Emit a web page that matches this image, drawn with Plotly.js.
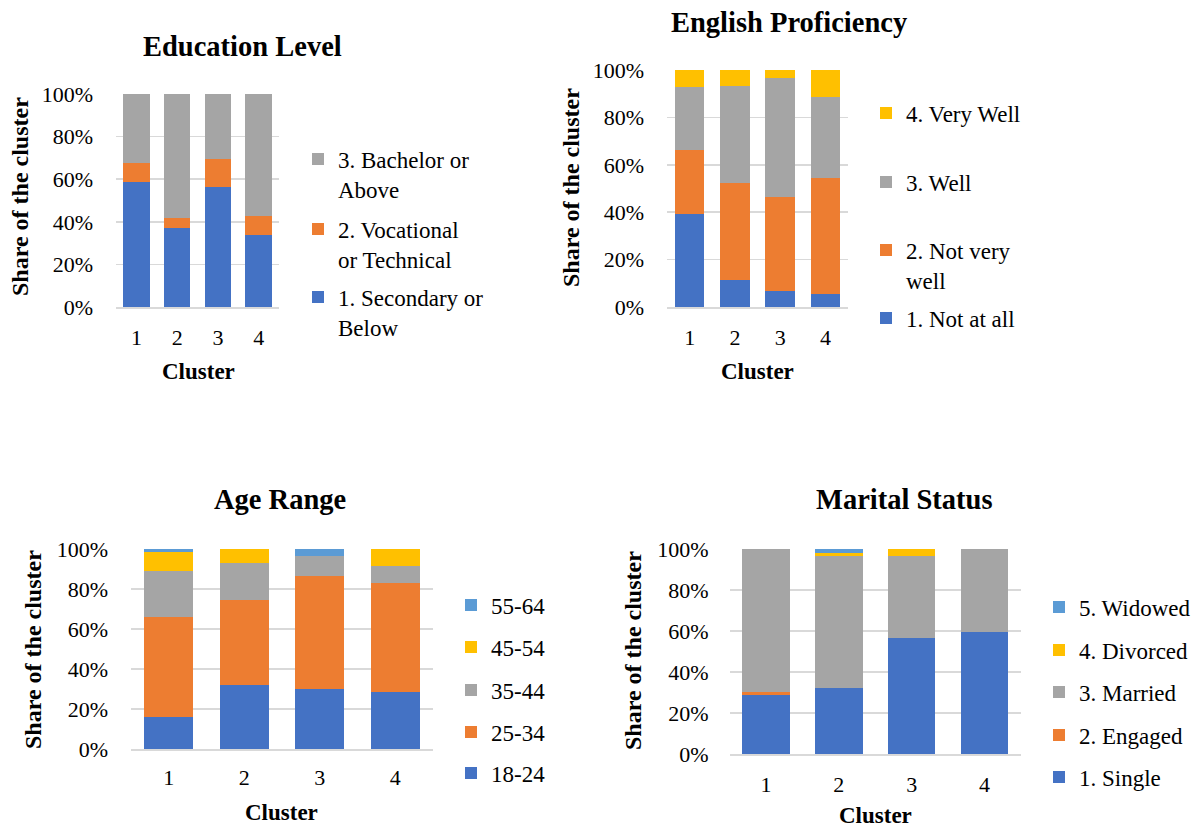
<!DOCTYPE html>
<html>
<head>
<meta charset="utf-8">
<script src="https://cdn.plot.ly/plotly-3.0.1.min.js"></script>
<style>html,body{margin:0;padding:0;background:#fff;}#chart{width:1203px;height:829px;}</style>
</head>
<body>
<div id="chart"></div>
<script>
// ---------- data ----------
const clusters = ['1', '2', '3', '4'];

const eduNames = ['1. Secondary or<br>Below', '2. Vocational<br>or Technical', '3. Bachelor or<br>Above'];
const eduSecondary  = [58.6, 37.0, 56.4, 33.9];
const eduVocational = [9.0, 4.8, 13.2, 8.6];
const eduBachelor   = [32.4, 58.2, 30.4, 57.5];

const engNames = ['1. Not at all', '2. Not very<br>well', '3. Well', '4. Very Well'];
const engNotAtAll   = [39.3, 11.5, 6.6, 5.6];
const engNotVery    = [26.8, 41.0, 40.0, 48.8];
const engWell       = [26.6, 40.6, 50.2, 34.1];
const engVeryWell   = [7.3, 6.9, 3.2, 11.5];

const ageNames = ['18-24', '25-34', '35-44', '45-54', '55-64'];
const age18_24 = [16.0, 32.1, 29.8, 28.5];
const age25_34 = [50.1, 42.4, 56.9, 54.4];
const age35_44 = [23.1, 18.7, 10.0, 8.6];
const age45_54 = [9.1, 6.8, 0.0, 8.5];
const age55_64 = [1.7, 0.0, 3.3, 0.0];

const marNames = ['1. Single', '2. Engaged', '3. Married', '4. Divorced', '5. Widowed'];
const marSingle   = [28.6, 32.0, 56.5, 59.7];
const marEngaged  = [1.6, 0.0, 0.0, 0.0];
const marMarried  = [69.8, 64.8, 40.3, 40.3];
const marDivorced = [0.0, 1.2, 3.2, 0.0];
const marWidowed  = [0.0, 2.0, 0.0, 0.0];

const titles = ['Education Level', 'English Proficiency', 'Age Range', 'Marital Status'];
const yTitle = 'Share of the cluster';
const xTitle = 'Cluster';

// ---------- styling ----------
const W = 1203, H = 829;
const X = p => p / W;
const Y = p => 1 - p / H;
const FONT = 'Times New Roman, Liberation Serif, serif';
const COLORS = ['#4472C4', '#ED7D31', '#A5A5A5', '#FFC000', '#5B9BD5'];
const GRID = '#D9D9D9';
const LEG_SIZE = 23, TICK_SIZE = 22;

const traces = [];
const layout = {
  width: W, height: H,
  margin: {l: 0, r: 0, t: 0, b: 0},
  paper_bgcolor: '#fff', plot_bgcolor: '#fff',
  barmode: 'stack', bargap: 0.35,
  font: {family: FONT, size: 20, color: '#000'},
  showlegend: true,
  legend: {visible: false},
  annotations: []
};

let legendCount = 1;
function addChart(idx, names, series, plot, legendPos, textX, titlePos, xtPos, ytPos) {
  const ax = idx === 1 ? '' : String(idx);
  series.forEach((vals, i) => {
    legendCount++;
    const lk = 'legend' + legendCount;
    traces.push({
      type: 'bar', x: clusters, y: vals, name: names[i],
      xaxis: 'x' + ax, yaxis: 'y' + ax,
      marker: {color: COLORS[i], line: {width: 0}},
      legend: lk, showlegend: true, hoverinfo: 'y+name'
    });
    layout[lk] = {
      x: X(textX - 40), y: Y(legendPos[i] - 21.5), xanchor: 'left', yanchor: 'top',
      bgcolor: 'rgba(0,0,0,0)', valign: 'top',
      font: {family: FONT, size: LEG_SIZE, color: '#000'}
    };
  });
  layout['xaxis' + ax] = {
    domain: [X(plot.l), X(plot.r)], anchor: 'y' + ax, type: 'category',
    showline: true, linecolor: GRID, linewidth: 1.5, showgrid: false, ticks: '',
    ticklabelstandoff: plot.xs, tickfont: {family: FONT, size: TICK_SIZE, color: '#000'},
    fixedrange: true
  };
  layout['yaxis' + ax] = {
    domain: [Y(plot.b), Y(plot.t)], anchor: 'x' + ax, range: [0, 100], dtick: 20,
    ticksuffix: '%', showgrid: true, gridcolor: GRID, gridwidth: 1.5, zeroline: false,
    showline: false, ticks: '', ticklabelstandoff: plot.ys,
    tickfont: {family: FONT, size: TICK_SIZE, color: '#000'}, fixedrange: true
  };
  layout.annotations.push(
    {text: '<b>' + titles[idx - 1] + '</b>', xref: 'paper', yref: 'paper', x: X(titlePos[0]), y: Y(titlePos[1]),
     xanchor: 'center', yanchor: 'middle', showarrow: false, font: {family: FONT, size: 28.5, color: '#000'}},
    {text: '<b>' + xTitle + '</b>', xref: 'paper', yref: 'paper', x: X(xtPos[0]), y: Y(xtPos[1]),
     xanchor: 'center', yanchor: 'middle', showarrow: false, font: {family: FONT, size: 23, color: '#000'}},
    {text: '<b>' + yTitle + '</b>', xref: 'paper', yref: 'paper', x: X(ytPos[0]), y: Y(ytPos[1]),
     xanchor: 'center', yanchor: 'middle', textangle: -90, showarrow: false, font: {family: FONT, size: 24, color: '#000'}}
  );
}

// series listed bottom-up; legendPos gives each series' legend first-line centre (px)
addChart(1, eduNames, [eduSecondary, eduVocational, eduBachelor],
  {l: 116, r: 279, t: 94, b: 307, xs: 10, ys: 22},
  [297, 229, 159], 338, [242, 46], [198, 371], [20, 197]);

addChart(2, engNames, [engNotAtAll, engNotVery, engWell, engVeryWell],
  {l: 667, r: 848, t: 70, b: 307, xs: 10, ys: 22},
  [318, 250, 182, 113], 906, [789, 22], [757, 371], [571, 188]);

addChart(3, ageNames, [age18_24, age25_34, age35_44, age45_54, age55_64],
  {l: 131, r: 433, t: 549, b: 749, xs: 8, ys: 22},
  [773, 732, 690, 647, 605], 491, [280, 500], [281, 812], [33, 650]);

addChart(4, marNames, [marSingle, marEngaged, marMarried, marDivorced, marWidowed],
  {l: 729.5, r: 1021, t: 549, b: 754, xs: 10, ys: 20},
  [777, 735, 692, 650, 607], 1079, [904, 500], [875, 815], [633, 651]);

Plotly.newPlot('chart', traces, layout, {displayModeBar: false, staticPlot: true});
</script>
</body>
</html>
